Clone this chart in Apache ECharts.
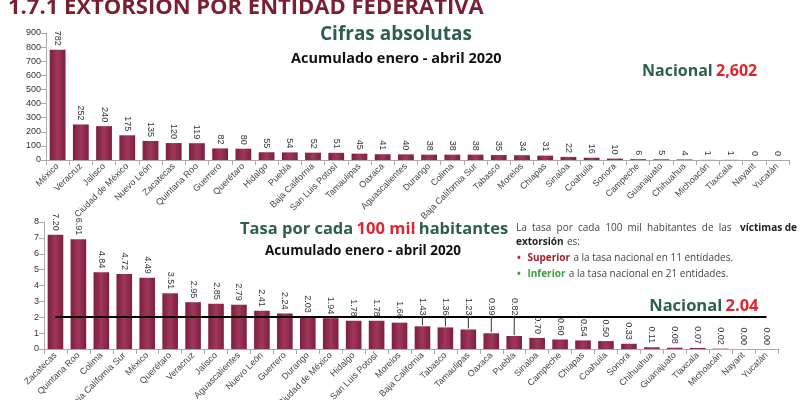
<!DOCTYPE html>
<html>
<head>
<meta charset="utf-8">
<title>Extorsión por entidad federativa</title>
<script src="https://cdn.jsdelivr.net/npm/echarts@6/dist/echarts.min.js"></script>
<style>
  html, body { margin: 0; padding: 0; background: #fff; }
  #chart { width: 800px; height: 400px; }
</style>
</head>
<body>
<div id="chart"></div>
<script type="text/javascript">
  // cifras absolutas, acumulado enero - abril 2020
  var estadosAbs = ['México', 'Veracruz', 'Jalisco', 'Ciudad de México', 'Nuevo León', 'Zacatecas', 'Quintana Roo',
    'Guerrero', 'Querétaro', 'Hidalgo', 'Puebla', 'Baja California', 'San Luis Potosí', 'Tamaulipas', 'Oaxaca',
    'Aguascalientes', 'Durango', 'Colima', 'Baja California Sur', 'Tabasco', 'Morelos', 'Chiapas', 'Sinaloa',
    'Coahuila', 'Sonora', 'Campeche', 'Guanajuato', 'Chihuahua', 'Michoacán', 'Tlaxcala', 'Nayarit', 'Yucatán'];
  var victimasAbs = [782, 252, 240, 175, 135, 120, 119, 82, 80, 55, 54, 52, 51, 45, 41, 40, 38, 38, 38, 35, 34, 31,
    22, 16, 10, 6, 5, 4, 1, 1, 0, 0];
  var nacionalAbs = '2,602';

  // tasa por cada 100 mil habitantes
  var estadosTasa = ['Zacatecas', 'Quintana Roo', 'Colima', 'Baja California Sur', 'México', 'Querétaro', 'Veracruz',
    'Jalisco', 'Aguascalientes', 'Nuevo León', 'Guerrero', 'Durango', 'Ciudad de México', 'Hidalgo',
    'San Luis Potosí', 'Morelos', 'Baja California', 'Tabasco', 'Tamaulipas', 'Oaxaca', 'Puebla', 'Sinaloa',
    'Campeche', 'Chiapas', 'Coahuila', 'Sonora', 'Chihuahua', 'Guanajuato', 'Tlaxcala', 'Michoacán', 'Nayarit', 'Yucatán'];
  var tasa = [7.20, 6.91, 4.84, 4.72, 4.49, 3.51, 2.95, 2.85, 2.79, 2.41, 2.24, 2.03, 1.94, 1.78, 1.78, 1.66, 1.43,
    1.36, 1.23, 0.99, 0.82, 0.70, 0.60, 0.54, 0.50, 0.33, 0.11, 0.08, 0.07, 0.02, 0.00, 0.00];
  var nacionalTasa = 2.04;
  // etiquetas que se suben arriba de la linea nacional (con linea guia)
  var conGuia = ['Baja California', 'Tabasco', 'Tamaulipas', 'Oaxaca', 'Puebla'];

  var guinda = new echarts.graphic.LinearGradient(0, 0, 1, 0, [
    {offset: 0, color: '#7c1f3d'},
    {offset: 0.5, color: '#a0375a'},
    {offset: 1, color: '#7c1f3d'}
  ]);
  var verde = '#2d5f4f';
  var fuente = '"Open Sans"';

  var myChart = echarts.init(document.getElementById('chart'));

  var ejeX = function (datos, idx) {
    return {
      type: 'category', gridIndex: idx, data: datos,
      axisLine: {lineStyle: {color: '#aaa'}},
      axisTick: {show: true, lineStyle: {color: '#aaa'}},
      axisLabel: {interval: 0, rotate: 45, fontSize: 9, color: '#444', margin: 5, fontFamily: 'Liberation Sans'}
    };
  };
  var ejeY = function (max, idx) {
    return {
      type: 'value', gridIndex: idx, min: 0, max: max, interval: max > 10 ? 100 : 1,
      axisLine: {show: true, lineStyle: {color: '#aaa'}},
      axisTick: {show: true, lineStyle: {color: '#aaa'}},
      splitLine: {show: false},
      axisLabel: {fontSize: 9, color: '#333', margin: 5, fontFamily: 'Liberation Sans'}
    };
  };
  var etiqueta = {show: true, position: 'top', rotate: -90, align: 'right', verticalAlign: 'middle', distance: 4,
    fontSize: 9, color: '#333', fontFamily: 'Liberation Sans'};

  var datosTasa = tasa.map(function (v, i) {
    return conGuia.indexOf(estadosTasa[i]) >= 0 ? {value: v, label: {show: false}} : v;
  });
  var datosGuia = [];
  estadosTasa.forEach(function (e, i) {
    if (conGuia.indexOf(e) >= 0) datosGuia.push([i, tasa[i]]);
  });

  option = {
    animation: false,
    grid: [
      {left: 46, right: 11, top: 33, height: 127, outerBoundsMode: 'none'},
      {left: 44, right: 22, top: 222, height: 127, outerBoundsMode: 'none'}
    ],
    xAxis: [ejeX(estadosAbs, 0), ejeX(estadosTasa, 1)],
    yAxis: [ejeY(900, 0), ejeY(8, 1)],
    graphic: [
      {type: 'text', left: 8, top: -3, style: {text: '1.7.1 EXTORSIÓN POR ENTIDAD FEDERATIVA',
        font: 'bold 22px ' + fuente, fill: '#7b1e30'}},
      {type: 'text', left: 320, top: 25, style: {text: 'Cifras absolutas',
        font: 'bold 19px ' + fuente, fill: verde}},
      {type: 'text', left: 291, top: 51, style: {text: 'Acumulado enero - abril 2020',
        font: 'bold 14.5px ' + fuente, fill: '#111'}},
      {type: 'text', left: 642, top: 63, style: {
        text: '{a|Nacional} {b|' + nacionalAbs + '}',
        rich: {a: {font: 'bold 16px ' + fuente, fill: verde}, b: {font: 'bold 16px ' + fuente, fill: '#e0262b'}}}},
      {type: 'text', left: 240, top: 221, style: {
        text: '{a|Tasa por cada} {b|100 mil} {a|habitantes}',
        rich: {a: {font: 'bold 16.5px ' + fuente, fill: verde}, b: {font: 'bold 16.5px ' + fuente, fill: '#e0262b'}}}},
      {type: 'text', left: 265, top: 244, style: {text: 'Acumulado enero - abril 2020',
        font: 'bold 13.5px ' + fuente, fill: '#111'}},
      {type: 'text', left: 516, top: 223, style: {text: 'La  tasa  por  cada  100  mil  habitantes  de  las',
        font: '10px ' + fuente, fill: '#444'}},
      {type: 'text', right: 3, top: 223, style: {text: 'víctimas de',
        font: 'bold 10px ' + fuente, fill: '#222'}},
      {type: 'text', left: 516, top: 236, style: {
        text: '{b|extorsión} {a|es:}',
        rich: {a: {font: '10px ' + fuente, fill: '#444'}, b: {font: 'bold 10px ' + fuente, fill: '#222'}}}},
      {type: 'text', left: 517, top: 252, style: {
        text: '{p|•}  {s|Superior} {a|a la tasa nacional en 11 entidades.}',
        rich: {p: {font: 'bold 10px ' + fuente, fill: '#c0262b'}, s: {font: 'bold 10px ' + fuente, fill: '#a3202a'},
          a: {font: '10px ' + fuente, fill: '#444'}}}},
      {type: 'text', left: 517, top: 268, style: {
        text: '{p|•}  {s|Inferior} {a|a la tasa nacional en 21 entidades.}',
        rich: {p: {font: 'bold 10px ' + fuente, fill: '#3f9f3a'}, s: {font: 'bold 10px ' + fuente, fill: '#3f9f3a'},
          a: {font: '10px ' + fuente, fill: '#444'}}}}
    ],
    series: [
      {
        name: 'Cifras absolutas', type: 'bar', xAxisIndex: 0, yAxisIndex: 0,
        data: victimasAbs, barWidth: '68%',
        itemStyle: {color: guinda},
        label: etiqueta
      },
      {
        name: 'Tasa', type: 'bar', xAxisIndex: 1, yAxisIndex: 1,
        data: datosTasa, barWidth: '68%',
        itemStyle: {color: guinda},
        label: Object.assign({}, etiqueta, {formatter: function (p) { return p.value.toFixed(2); }}),
        markLine: {
          silent: true, symbol: 'none',
          lineStyle: {color: '#000', width: 2, type: 'solid'},
          label: {show: true, position: 'insideEndTop', distance: [8, 2],
            formatter: '{a|Nacional} {b|' + nacionalTasa.toFixed(2) + '}',
            rich: {
              a: {fontSize: 16.5, fontWeight: 'bold', fontFamily: fuente, color: verde},
              b: {fontSize: 16.5, fontWeight: 'bold', fontFamily: fuente, color: '#e0262b'}
            }},
          data: [[{coord: [estadosTasa[0], nacionalTasa]}, {coord: [estadosTasa[estadosTasa.length - 1], nacionalTasa]}]]
        }
      },
      {
        // etiquetas subidas con su linea guia
        name: 'Guias', type: 'custom', xAxisIndex: 1, yAxisIndex: 1, silent: true, z: 5,
        data: datosGuia,
        renderItem: function (params, api) {
          var v = api.value(1);
          var barra = api.coord([api.value(0), v]);
          var linea = api.coord([api.value(0), nacionalTasa]);
          return {
            type: 'group',
            children: [
              {type: 'line', shape: {x1: barra[0], y1: barra[1] - 1, x2: barra[0], y2: linea[1] - 1},
                style: {stroke: '#333', lineWidth: 1}},
              {type: 'text', x: barra[0], y: linea[1] - 1, rotation: -Math.PI / 2,
                style: {text: v.toFixed(2), align: 'right', verticalAlign: 'middle', fill: '#333',
                  font: '9px "Liberation Sans"'}}
            ]
          };
        }
      }
    ]
  };
  myChart.setOption(option);
</script>
</body>
</html>
